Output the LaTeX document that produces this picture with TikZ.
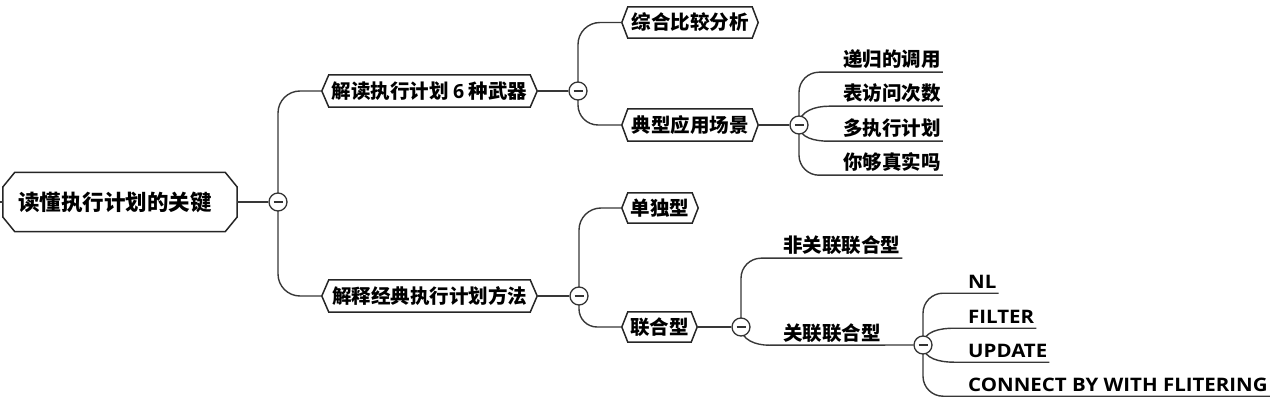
\documentclass[tikz,border=0pt]{standalone}
\usepackage{fontspec}
\setmainfont{Noto Sans CJK SC}
\newfontfamily\latinfont{Open Sans}
\newfontfamily\latinwide{Open Sans}[FakeStretch=1.1]
\usetikzlibrary{backgrounds,calc}
\newcommand\hexout[2][7]{\draw[outline] (#2.west) -- ([xshift=#1pt]#2.north west) -- ([xshift=-#1pt]#2.north east) -- (#2.east) -- ([xshift=-#1pt]#2.south east) -- ([xshift=#1pt]#2.south west) -- cycle;}
\begin{document}
\begin{tikzpicture}[x=1pt,y=-1pt,
  conn/.style={draw=black!78, line width=1.4pt},
  outline/.style={draw=black!85, line width=1.5pt, fill=white},
  box/.style={inner sep=0pt, font=\fontsize{19.5}{22}\selectfont\bfseries},
  rootbox/.style={inner xsep=15pt, inner ysep=0pt, text width=204pt, align=left, minimum height=59pt, font=\fontsize{21.5}{24}\selectfont\bfseries},
  toggle/.style={circle, draw=black!80, line width=1.3pt, fill=white, minimum size=18pt, inner sep=0pt,
    path picture={\draw[line width=1.3pt] ([xshift=-4.5pt]path picture bounding box.center) -- ([xshift=4.5pt]path picture bounding box.center);}},
  leaf/.style={anchor=base west, inner xsep=2pt, inner ysep=0pt, text depth=5pt, font=\fontsize{19.5}{22}\selectfont\bfseries},
  latinleaf/.style={leaf, font=\fontsize{18.6}{22}\latinwide\bfseries}
]
\useasboundingbox (0,0) rectangle (1280,406);

% main nodes
\node[rootbox] (root) at (120,202) {读懂执行计划的关键};
\node[box, minimum width=215pt, minimum height=32pt] (A) at (429.5,91) {解读执行计划 {\latinfont 6} 种武器};
\node[box, minimum width=215pt, minimum height=32pt] (B) at (429.5,296) {解释经典执行计划方法};
\node[box, minimum width=136pt, minimum height=31pt] (C1) at (690,22.5) {综合比较分析};
\node[box, minimum width=136pt, minimum height=32pt] (C2) at (690,125) {典型应用场景};
\node[box, minimum width=76pt, minimum height=30pt] (D1) at (660,208) {单独型};
\node[box, minimum width=75pt, minimum height=30pt] (D2) at (659.5,327) {联合型};

% toggles
\node[toggle] (c0) at (278,202) {};
\node[toggle] (cA) at (578,91) {};
\node[toggle] (cB) at (579,296) {};
\node[toggle] (cC2) at (799,125) {};
\node[toggle] (cD2) at (741,327) {};
\node[toggle] (cE) at (923,345) {};

% leaves
\node[leaf] (p1) at (841,67) {递归的调用};
\node[leaf] (p2) at (841,101) {表访问次数};
\node[leaf] (p3) at (841,136) {多执行计划};
\node[leaf] (p4) at (841,170) {你够真实吗};
\node[leaf] (n1) at (781,253) {非关联联合型};
\node[leaf] (n2) at (781,340) {关联联合型};
\node[latinleaf] (e1) at (966,288) {NL};
\node[latinleaf] (e2) at (966,323) {FILTER};
\node[latinleaf] (e3) at (966,357) {UPDATE};
\node[latinleaf] (e4) at (966,391) {CONNECT BY WITH FLITERING};

\begin{scope}[on background layer]
  % outlines
  \draw[outline] ([yshift=15pt]root.west) -- ([xshift=12pt]root.north west) -- ([xshift=-12pt]root.north east) -- ([yshift=15pt]root.east) -- ([yshift=-15pt]root.east) -- ([xshift=-12pt]root.south east) -- ([xshift=12pt]root.south west) -- ([yshift=-15pt]root.west) -- cycle;
  \hexout{A}
  \hexout{B}
  \hexout[6]{C1}
  \hexout[6]{C2}
  \hexout[6]{D1}
  \hexout[6]{D2}
  % connectors
  \draw[conn] (root.west) -- ++(-3,0);
  \draw[conn] (root) -- (c0);
  \draw[conn, rounded corners=22pt] (c0.center) |- (A.west);
  \draw[conn, rounded corners=22pt] (c0.center) |- (B.west);
  \draw[conn] (A) -- (cA);
  \draw[conn] (B) -- (cB);
  \draw[conn, rounded corners=22pt] (cA.center) |- (C1.west);
  \draw[conn, rounded corners=20pt] (cA.center) |- (C2.west);
  \draw[conn] (C2) -- (cC2);
  \draw[conn, rounded corners=20pt] (cC2.center) |- (p1.south east);
  \draw[conn] (cC2.center) to[out=90,in=180] ([xshift=-12pt]p2.south west) -- (p2.south east);
  \draw[conn] (cC2.center) to[out=270,in=180] ([xshift=-12pt]p3.south west) -- (p3.south east);
  \draw[conn, rounded corners=20pt] (cC2.center) |- (p4.south east);
  \draw[conn, rounded corners=22pt] (cB.center) |- (D1.west);
  \draw[conn, rounded corners=18pt] (cB.center) |- (D2.west);
  \draw[conn] (D2) -- (cD2);
  \draw[conn, rounded corners=20pt] (cD2.center) |- (n1.south east);
  \draw[conn] (cD2.center) to[out=270,in=180] ([xshift=-12pt]n2.south west) -- (cE);
  \draw[conn, rounded corners=20pt] (cE.center) |- (e1.south east);
  \draw[conn] (cE.center) to[out=90,in=180] ([xshift=-12pt]e2.south west) -- (e2.south east);
  \draw[conn] (cE.center) to[out=270,in=180] ([xshift=-12pt]e3.south west) -- (e3.south east);
  \draw[conn, rounded corners=20pt] (cE.center) |- (e4.south east);
\end{scope}
\end{tikzpicture}
\end{document}
